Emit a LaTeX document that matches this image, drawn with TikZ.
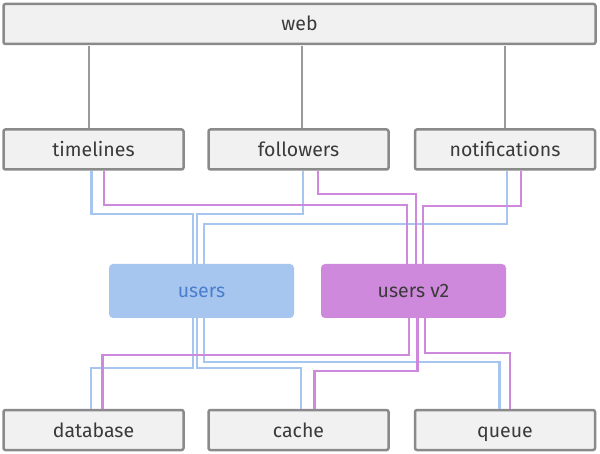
\documentclass[tikz,border=0pt]{standalone}
\usepackage{fontspec}
\setmainfont{Fira Sans}
\usepackage{tikz}
\usetikzlibrary{calc,positioning}

\definecolor{boxfill}{HTML}{F1F1F1}
\definecolor{boxline}{HTML}{8A8A8A}
\definecolor{webgray}{HTML}{9A9A9A}
\definecolor{textgray}{HTML}{3A3A3A}
\definecolor{bluefill}{HTML}{A6C6F0}
\definecolor{bluetext}{HTML}{4A7ECC}
\definecolor{purplefill}{HTML}{CF89DC}

\tikzset{
  box/.style={draw=boxline, fill=boxfill, line width=2.5pt, rounded corners=2pt,
    minimum width=180pt, minimum height=40pt, inner sep=0pt,
    text height=15pt, text depth=1pt,
    font=\fontsize{19.5}{19.5}\selectfont, text=textgray},
  service/.style={rounded corners=4pt, minimum width=185pt, minimum height=54pt,
    inner sep=0pt, text height=15pt, text depth=1pt,
    font=\fontsize{19.5}{19.5}\selectfont},
  webline/.style={draw=webgray, line width=2.2pt},
  blueway/.style={draw=bluefill, line width=2.2pt},
  purpleway/.style={draw=purplefill, line width=2.2pt}
}

\begin{document}
\begin{tikzpicture}[x=1pt,y=-1pt]
  \useasboundingbox (0,0) rectangle (600,454);

  \node [box, minimum width=592pt] (web) at (299.5,24) {web};

  \node [box] (timelines)     at (93.5,149.5)  {timelines};
  \node [box] (followers)     at (298.5,149.5) {followers};
  \node [box] (notifications) at (505,149.5)   {notifications};

  \node [service, fill=bluefill, text=bluetext] (users)   at (201.5,291) {users};
  \node [service, fill=purplefill, text=textgray] (usersv2) at (413.5,291) {users v2};

  \node [box] (database) at (93.5,430)  {database};
  \node [box] (cache)    at (298.5,430) {cache};
  \node [box] (queue)    at (505,430)   {queue};

  % web to the front services
  \foreach \svc/\dx in {timelines/-4.5,followers/3.5,notifications/0} {
    \draw [webline] ([xshift=\dx pt]\svc.north) -- ++(0,-82);
  }

  % front services to users and users v2
  \foreach \svc/\fx/\drop/\tx in {timelines/-2/43/-8.5,followers/4.5/43/-4.5,notifications/2/53/2.5} {
    \draw [blueway] ([xshift=\fx pt]\svc.south) -- ++(0,\drop) -| ([xshift=\tx pt]users.north);
  }
  \foreach \svc/\fx/\drop/\tx in {timelines/10.5/34/-6.5,followers/19.5/23/2.5,notifications/16/35/9.5} {
    \draw [purpleway] ([xshift=\fx pt]\svc.south) -- ++(0,\drop) -| ([xshift=\tx pt]usersv2.north);
  }

  % users and users v2 to the stores
  \foreach \fx/\drop/\store/\tx in {-8.5/50/database/-2.5,-4.5/50/cache/2.5,2.5/44/queue/-5.5} {
    \draw [blueway] ([xshift=\fx pt]users.south) -- ++(0,\drop) -| ([xshift=\tx pt]\store.north);
  }
  \foreach \fx/\drop/\store/\tx in {-4.5/37/database/9,4/53/cache/16,11.5/35/queue/5} {
    \draw [purpleway] ([xshift=\fx pt]usersv2.south) -- ++(0,\drop) -| ([xshift=\tx pt]\store.north);
  }
\end{tikzpicture}
\end{document}
